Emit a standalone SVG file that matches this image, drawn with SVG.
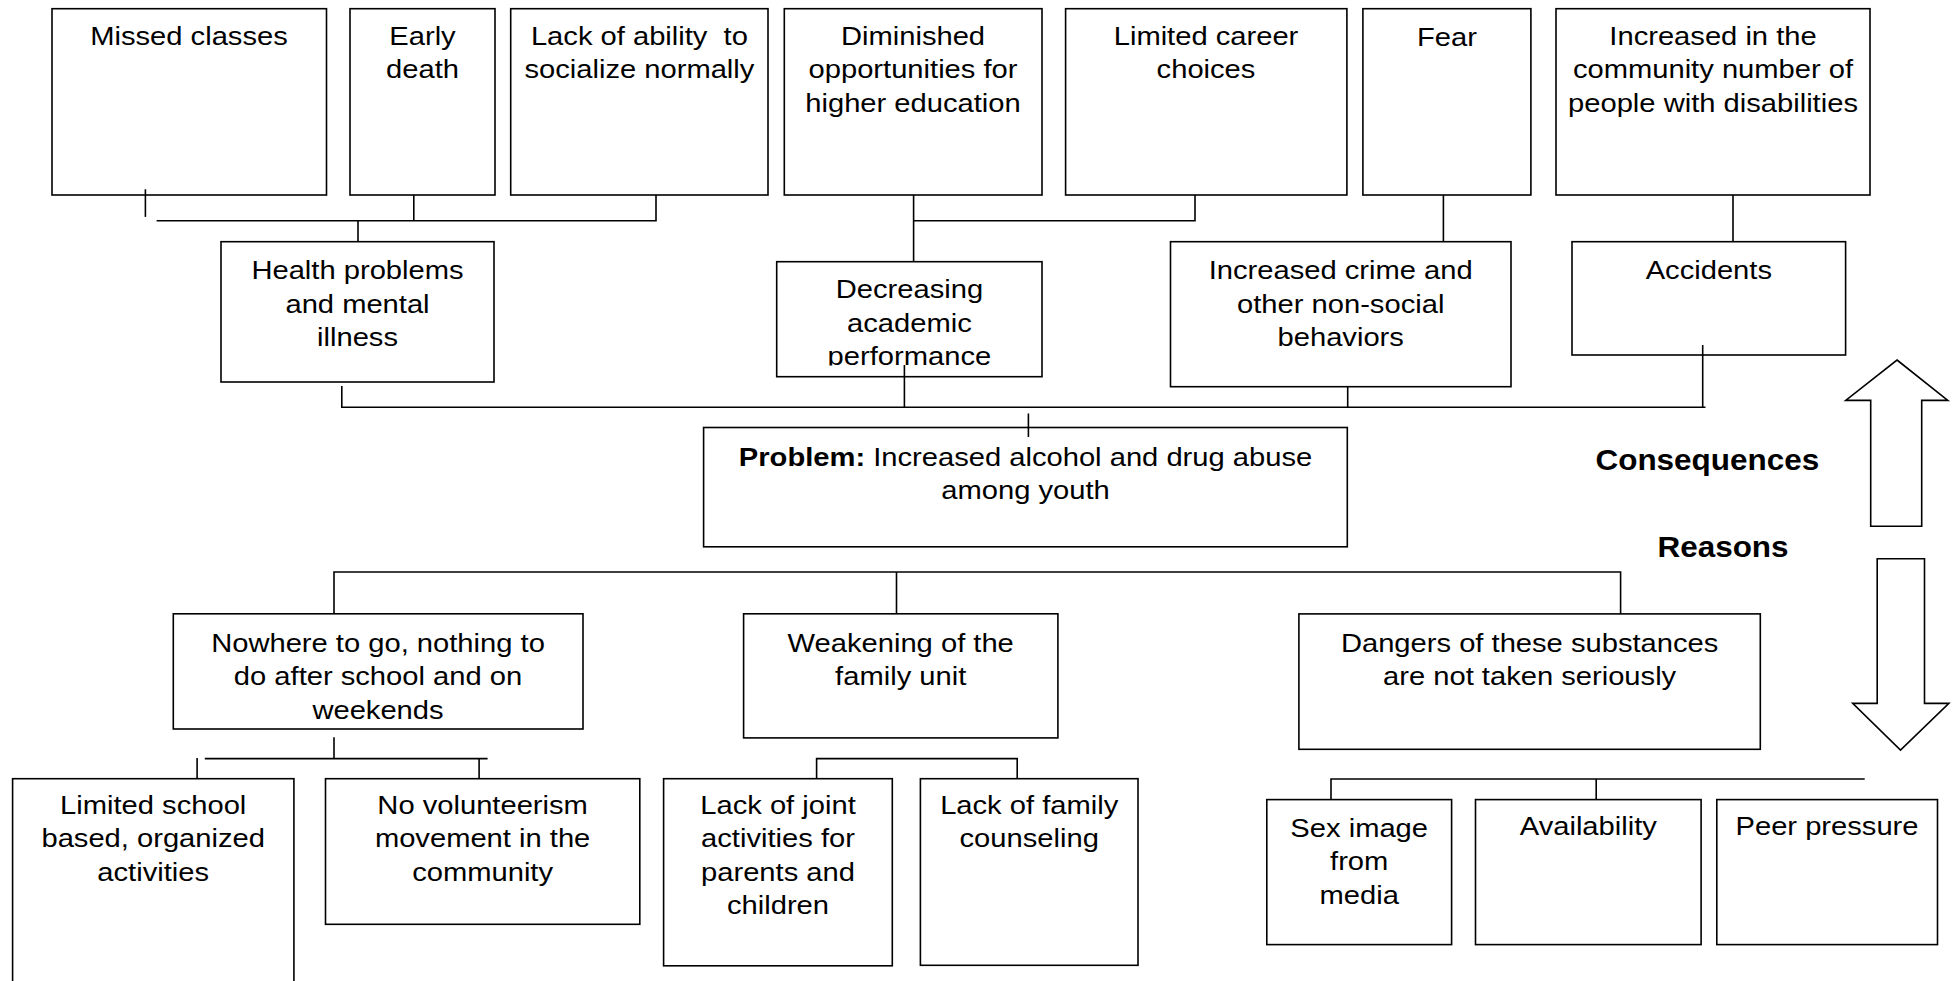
<svg xmlns="http://www.w3.org/2000/svg" width="1952" height="981" viewBox="0 0 1952 981">
  <style>
    .box { fill: #fff; stroke: #000; stroke-width: 1.6; }
    .t { font-family: "Liberation Sans", Arial, sans-serif; font-size: 26.5px; fill: #000; text-anchor: middle; }
    .lbl { font-family: "Liberation Sans", Arial, sans-serif; font-size: 28.6px; font-weight: bold; fill: #000; }
    .b { font-weight: bold; }
    #connectors { fill: none; stroke: #000; stroke-width: 1.6; }
    .arrow { fill: #fff; stroke: #000; stroke-width: 1.6; stroke-linejoin: miter; }
  </style>
  <defs>
    <clipPath id="clip-decreasing">
      <rect x="776" y="262" width="266" height="103.5"/>
    </clipPath>
  </defs>
  <rect width="1952" height="981" fill="#fff"/>

  <!-- Consequences: top row -->
  <g id="missed-classes">
    <rect class="box" x="52" y="8.7" width="274.5" height="186.3"/>
    <text class="t" transform="translate(189 0) scale(1.1 1)"><tspan x="0" y="45">Missed classes</tspan></text>
  </g>
  <g id="early-death">
    <rect class="box" x="350" y="8.7" width="145" height="186.3"/>
    <text class="t" transform="translate(422.5 0) scale(1.1 1)"><tspan x="0" y="45">Early</tspan><tspan x="0" y="78.3">death</tspan></text>
  </g>
  <g id="lack-of-ability">
    <rect class="box" x="510.7" y="8.7" width="257.3" height="186.3"/>
    <text class="t" transform="translate(639.4 0) scale(1.1 1)"><tspan x="0" y="45">Lack of ability&#160; to</tspan><tspan x="0" y="78.3">socialize normally</tspan></text>
  </g>
  <g id="diminished-opportunities">
    <rect class="box" x="784.3" y="8.7" width="257.7" height="186.3"/>
    <text class="t" transform="translate(913 0) scale(1.1 1)"><tspan x="0" y="45">Diminished</tspan><tspan x="0" y="78.3">opportunities for</tspan><tspan x="0" y="111.7">higher education</tspan></text>
  </g>
  <g id="limited-career">
    <rect class="box" x="1065.6" y="8.7" width="281.3" height="186.3"/>
    <text class="t" transform="translate(1206 0) scale(1.1 1)"><tspan x="0" y="45">Limited career</tspan><tspan x="0" y="78.3">choices</tspan></text>
  </g>
  <g id="fear">
    <rect class="box" x="1362.9" y="8.7" width="168" height="186.3"/>
    <text class="t" transform="translate(1447 0) scale(1.1 1)"><tspan x="0" y="46">Fear</tspan></text>
  </g>
  <g id="disabilities">
    <rect class="box" x="1556" y="8.7" width="314" height="186.3"/>
    <text class="t" transform="translate(1713 0) scale(1.1 1)"><tspan x="0" y="45">Increased in the</tspan><tspan x="0" y="78.3">community number of</tspan><tspan x="0" y="111.7">people with disabilities</tspan></text>
  </g>

  <!-- Consequences: second row -->
  <g id="health-problems">
    <rect class="box" x="221" y="241.7" width="273" height="140.3"/>
    <text class="t" transform="translate(357.5 0) scale(1.1 1)"><tspan x="0" y="279.3">Health problems</tspan><tspan x="0" y="312.6">and mental</tspan><tspan x="0" y="346">illness</tspan></text>
  </g>
  <g id="decreasing-performance">
    <rect class="box" x="776.7" y="261.7" width="265.3" height="115"/>
    <g clip-path="url(#clip-decreasing)">
      <text class="t" transform="translate(909.4 0) scale(1.1 1)"><tspan x="0" y="298.3">Decreasing</tspan><tspan x="0" y="331.6">academic</tspan><tspan x="0" y="364.9">performance</tspan></text>
    </g>
  </g>
  <g id="increased-crime">
    <rect class="box" x="1170.5" y="241.7" width="340.5" height="145"/>
    <text class="t" transform="translate(1340.7 0) scale(1.1 1)"><tspan x="0" y="279.3">Increased crime and</tspan><tspan x="0" y="312.6">other non-social</tspan><tspan x="0" y="346">behaviors</tspan></text>
  </g>
  <g id="accidents">
    <rect class="box" x="1572" y="241.7" width="273.6" height="113.3"/>
    <text class="t" transform="translate(1708.8 0) scale(1.1 1)"><tspan x="0" y="279.3">Accidents</tspan></text>
  </g>

  <!-- Central problem -->
  <g id="problem">
    <rect class="box" x="703.6" y="427.5" width="643.7" height="119.3"/>
    <text class="t" transform="translate(1025.5 0) scale(1.1 1)"><tspan x="0" y="466"><tspan class="b">Problem:</tspan> Increased alcohol and drug abuse</tspan><tspan x="0" y="499.3">among youth</tspan></text>
  </g>

  <!-- Reasons: first row -->
  <g id="nowhere-to-go">
    <rect class="box" x="173.3" y="613.8" width="409.7" height="115.2"/>
    <text class="t" transform="translate(378 0) scale(1.1 1)"><tspan x="0" y="652">Nowhere to go, nothing to</tspan><tspan x="0" y="685.3">do after school and on</tspan><tspan x="0" y="718.6">weekends</tspan></text>
  </g>
  <g id="weakening-family">
    <rect class="box" x="743.6" y="613.8" width="314.3" height="124.1"/>
    <text class="t" transform="translate(900.7 0) scale(1.1 1)"><tspan x="0" y="652">Weakening of the</tspan><tspan x="0" y="685.3">family unit</tspan></text>
  </g>
  <g id="dangers">
    <rect class="box" x="1298.9" y="613.9" width="461.4" height="135.4"/>
    <text class="t" transform="translate(1529.6 0) scale(1.1 1)"><tspan x="0" y="652.3">Dangers of these substances</tspan><tspan x="0" y="685.5">are not taken seriously</tspan></text>
  </g>

  <!-- Reasons: second row -->
  <g id="limited-school">
    <rect class="box" x="12.6" y="778.7" width="281.3" height="215"/>
    <text class="t" transform="translate(153.2 0) scale(1.1 1)"><tspan x="0" y="814.2">Limited school</tspan><tspan x="0" y="847.5">based, organized</tspan><tspan x="0" y="880.8">activities</tspan></text>
  </g>
  <g id="no-volunteerism">
    <rect class="box" x="325.5" y="778.7" width="314.3" height="145.6"/>
    <text class="t" transform="translate(482.6 0) scale(1.1 1)"><tspan x="0" y="814.2">No volunteerism</tspan><tspan x="0" y="847.5">movement in the</tspan><tspan x="0" y="880.8">community</tspan></text>
  </g>
  <g id="joint-activities">
    <rect class="box" x="663.6" y="778.7" width="228.7" height="187.1"/>
    <text class="t" transform="translate(778 0) scale(1.1 1)"><tspan x="0" y="814.2">Lack of joint</tspan><tspan x="0" y="847.5">activities for</tspan><tspan x="0" y="880.8">parents and</tspan><tspan x="0" y="914.1">children</tspan></text>
  </g>
  <g id="family-counseling">
    <rect class="box" x="920.4" y="778.7" width="217.6" height="186.6"/>
    <text class="t" transform="translate(1029.2 0) scale(1.1 1)"><tspan x="0" y="814.2">Lack of family</tspan><tspan x="0" y="847.5">counseling</tspan></text>
  </g>
  <g id="sex-image">
    <rect class="box" x="1266.8" y="799.6" width="184.8" height="145"/>
    <text class="t" transform="translate(1359.2 0) scale(1.1 1)"><tspan x="0" y="837.2">Sex image</tspan><tspan x="0" y="870.5">from</tspan><tspan x="0" y="903.8">media</tspan></text>
  </g>
  <g id="availability">
    <rect class="box" x="1475.5" y="799.6" width="225.6" height="145"/>
    <text class="t" transform="translate(1588.3 0) scale(1.1 1)"><tspan x="0" y="835.2">Availability</tspan></text>
  </g>
  <g id="peer-pressure">
    <rect class="box" x="1716.8" y="799.6" width="220.7" height="145"/>
    <text class="t" transform="translate(1827 0) scale(1.1 1)"><tspan x="0" y="835.2">Peer pressure</tspan></text>
  </g>

  <!-- Side labels and direction arrows -->
  <g id="consequences-label">
    <text class="lbl" transform="translate(1595.5 0) scale(1.1 1)" x="0" y="470">Consequences</text>
  </g>
  <g id="reasons-label">
    <text class="lbl" transform="translate(1657.5 0) scale(1.1 1)" x="0" y="557.3">Reasons</text>
  </g>
  <g id="arrow-up">
    <polygon class="arrow" points="1897,360 1947.8,400.4 1921.7,400.4 1921.7,526.3 1870.7,526.3 1870.7,400.4 1845.7,400.4"/>
  </g>
  <g id="arrow-down">
    <polygon class="arrow" points="1877.2,558.8 1924.5,558.8 1924.5,703.4 1948.9,703.4 1900.5,750.1 1852.7,703.4 1877.2,703.4"/>
  </g>

  <!-- Connector lines -->
  <g id="connectors">
    <!-- top-left cluster into health problems -->
    <path d="M145.4,189.3 V216.9"/>
    <path d="M156.6,220.8 H656 V195"/>
    <path d="M413.8,195 V220.8"/>
    <path d="M358,220.8 V241.7"/>
    <!-- education cluster into decreasing performance -->
    <path d="M913.6,195 V261.7"/>
    <path d="M913.6,220.8 H1195 V195"/>
    <!-- fear and disabilities -->
    <path d="M1443.4,195 V241.7"/>
    <path d="M1733,195 V241.7"/>
    <!-- second row into problem -->
    <path d="M341.8,386 V407.3 H1705.5"/>
    <path d="M904.4,365 V407.3"/>
    <path d="M1347.7,386.7 V407.3"/>
    <path d="M1702.7,345 V407.3"/>
    <path d="M1028.4,413.5 V437"/>
    <!-- problem down to reasons -->
    <path d="M334,613.8 V572 H1620.6 V613.9"/>
    <path d="M896.5,572 V613.8"/>
    <!-- nowhere-to-go branch -->
    <path d="M334,737.2 V758.6"/>
    <path d="M204.8,758.6 H487.6"/>
    <path d="M197.1,757.9 V778.7"/>
    <path d="M479.1,758.6 V778.7"/>
    <!-- family branch -->
    <path d="M816.6,778.7 V758.6 H1017.2 V778.7"/>
    <!-- dangers branch -->
    <path d="M1331,799.6 V779 H1864.7"/>
    <path d="M1596.2,779 V799.6"/>
  </g>
</svg>
